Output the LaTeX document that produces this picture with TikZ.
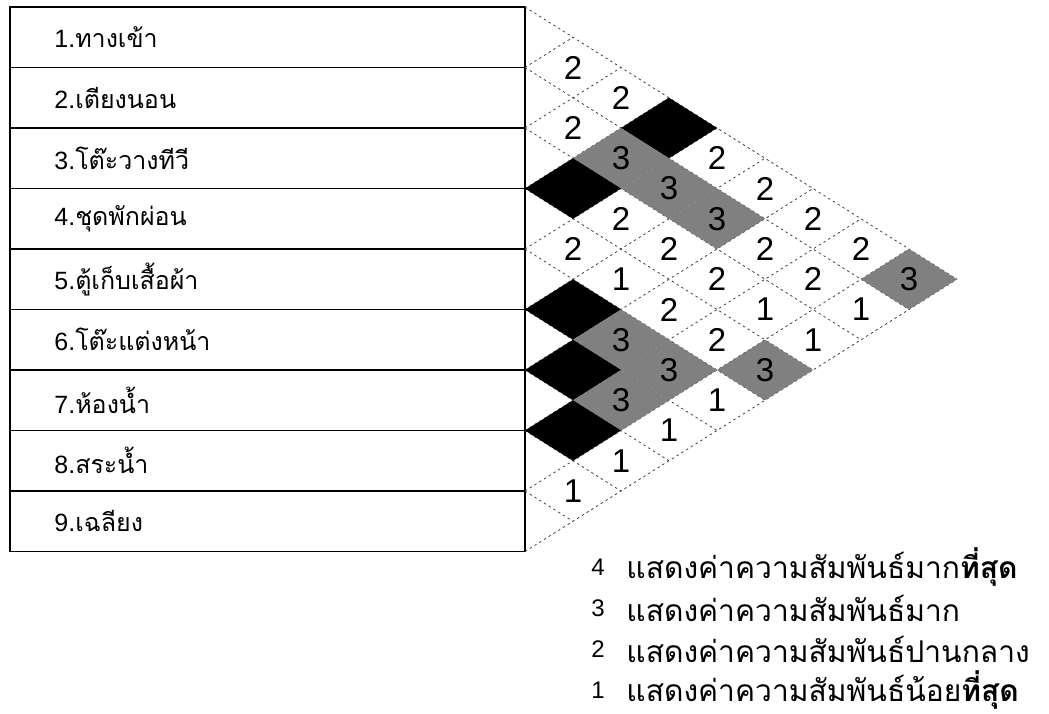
\documentclass[tikz,border=0pt]{standalone}
\usepackage{fontspec}
\setmainfont{Liberation Sans}
\newfontfamily\thaifont[Script=Thai]{Loma}
\usetikzlibrary{calc}

\tikzset{
  itembox/.style={draw=black, line width=0.8pt},
  itemlabel/.style={anchor=west, inner sep=0pt, font=\fontsize{12.5}{14}\selectfont},
  gridline/.style={black!75, line width=0.4pt, dash pattern=on 1.2pt off 1.6pt},
  cell4/.style={fill=black},
  cell3/.style={fill=black!50},
  cell2/.style={},
  cell1/.style={},
  cellvalue/.style={inner sep=0pt, font=\fontsize{16.5}{18}\selectfont},
  keyvalue/.style={inner sep=0pt, font=\fontsize{12}{13}\selectfont},
  keytext/.style={anchor=west, inner sep=0pt, font=\fontsize{15}{16}\selectfont\thaifont},
}

\begin{document}
\begin{tikzpicture}[x=0.5pt, y=-0.5pt]
  \useasboundingbox (0,0) rectangle (1049,713);

  % Row boundaries on the right edge of the list
  \foreach \k in {0,...,9}
    \coordinate (b\k) at (525, {7+60.5*\k});

  % List of spaces
  \draw[itembox] (10,7) rectangle (b9);
  \foreach \k in {1,...,8}
    \draw[itembox] (10, {7+60.5*\k}) -- (b\k);
  \foreach \name [count=\i] in {ทางเข้า, เตียงนอน, โต๊ะวางทีวี, ชุดพักผ่อน, ตู้เก็บเสื้อผ้า, โต๊ะแต่งหน้า, ห้องน้ำ, สระน้ำ, เฉลียง}
    \node[itemlabel] (item\i) at (54, {7+60.5*(\i-0.5)}) {\i.{\thaifont\name}};

  % Diagonal grid of the relation chart
  \foreach \k in {0,...,9} {
    \pgfmathsetmacro\d{9-\k}
    \draw[gridline] (b\k) -- ++({48*\d}, {30.25*\d});
    \draw[gridline] (b\k) -- ++({48*\k}, {-30.25*\k});
  }

  % Relation values (row i, row j, value)
  \foreach \i/\j/\v in {1/2/2, 1/3/2, 1/4/4, 1/5/2, 1/6/2, 1/7/2, 1/8/2, 1/9/3,
                        2/3/2, 2/4/3, 2/5/3, 2/6/3, 2/7/2, 2/8/2, 2/9/1,
                        3/4/4, 3/5/2, 3/6/2, 3/7/2, 3/8/1, 3/9/1,
                        4/5/2, 4/6/1, 4/7/2, 4/8/2, 4/9/3,
                        5/6/4, 5/7/3, 5/8/3, 5/9/1,
                        6/7/4, 6/8/3, 6/9/1,
                        7/8/4, 7/9/1,
                        8/9/1} {
    \pgfmathsetmacro\cx{525+48*(\j-\i)}
    \pgfmathsetmacro\cy{7+30.25*(\i+\j-1)}
    \path[cell\v] (\cx-48,\cy) -- (\cx,\cy-30.25) -- (\cx+48,\cy) -- (\cx,\cy+30.25) -- cycle;
    \ifnum\v<4
      \node[cellvalue] (c\i\j) at (\cx,\cy) {\v};
    \fi
  }

  % Key
  \foreach \v/\t [count=\n] in {4/{แสดงค่าความสัมพันธ์มาก\textbf{ที่สุด}},
                               3/{แสดงค่าความสัมพันธ์มาก},
                               2/{แสดงค่าความสัมพันธ์ปานกลาง},
                               1/{แสดงค่าความสัมพันธ์น้อย\textbf{ที่สุด}}} {
    \node[keyvalue] (v\n) at (598, {567+41*(\n-1)}) {\v};
    \node[keytext] (t\n) at (626, {567+41*(\n-1)}) {\t};
  }
\end{tikzpicture}
\end{document}
